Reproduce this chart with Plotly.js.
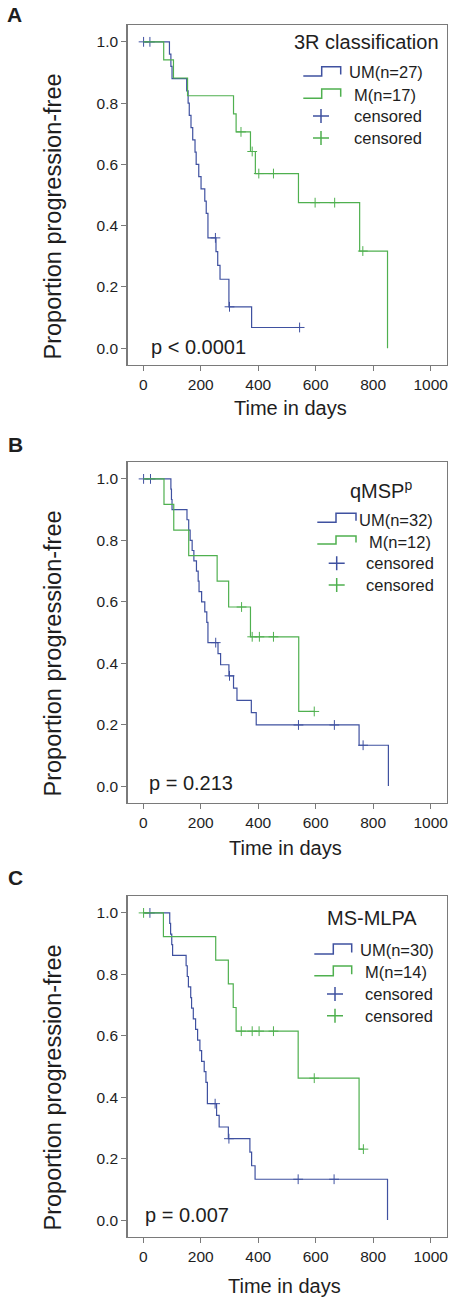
<!DOCTYPE html>
<html>
<head>
<meta charset="utf-8">
<script src="https://cdn.plot.ly/plotly-3.0.1.min.js"></script>
<style>html,body{margin:0;padding:0;background:#fff;}#chart{width:453px;height:1302px;}</style>
</head>
<body>
<div id="chart"></div>
<script>
// ---------- DATA ----------
// Panel A: 3R classification
const umA_t = [0, 91, 96, 100, 151, 156, 160, 166, 172, 180, 184, 193, 201, 214, 219, 225, 253, 259, 267, 298, 377, 544];
const umA_s = [1, 0.96, 0.92, 0.88, 0.84, 0.80, 0.76, 0.72, 0.68, 0.64, 0.60, 0.56, 0.52, 0.48, 0.44, 0.36, 0.315, 0.27, 0.225, 0.135, 0.0675, 0.0675];
const umA_cens = [1, 23, 251, 300, 544];
const mA_t = [0, 71, 105, 154, 314, 323, 373, 390, 540, 753, 850];
const mA_s = [1, 0.941, 0.882, 0.824, 0.765, 0.706, 0.642, 0.570, 0.475, 0.317, 0];
const mA_cens = [340, 379, 402, 453, 598, 666, 764];

// Panel B: qMSP^p
const umB_t = [0, 96, 98, 100, 152, 158, 163, 170, 176, 185, 191, 194, 203, 214, 221, 225, 260, 269, 298, 314, 326, 376, 393, 751, 853];
const umB_s = [1, 0.967, 0.933, 0.9, 0.867, 0.833, 0.8, 0.767, 0.733, 0.7, 0.667, 0.633, 0.6, 0.567, 0.533, 0.467, 0.431, 0.395, 0.359, 0.319, 0.279, 0.239, 0.199, 0.133, 0];
const umB_cens = [1, 25, 252, 300, 540, 665, 765];
const mB_t = [0, 72, 106, 158, 257, 297, 373, 541, 595];
const mB_s = [1, 0.917, 0.833, 0.75, 0.667, 0.583, 0.486, 0.243, 0.243];
const mB_cens = [342, 379, 404, 453, 595];

// Panel C: MS-MLPA
const umC_t = [0, 92, 95, 99, 102, 149, 153, 157, 165, 168, 174, 182, 189, 197, 203, 212, 218, 223, 255, 264, 296, 371, 377, 389, 850];
const umC_s = [1, 0.966, 0.931, 0.897, 0.862, 0.828, 0.793, 0.759, 0.724, 0.690, 0.655, 0.621, 0.586, 0.552, 0.517, 0.483, 0.448, 0.379, 0.341, 0.303, 0.265, 0.221, 0.177, 0.133, 0];
const umC_cens = [23, 250, 298, 539, 664];
const mC_t = [0, 70, 252, 296, 313, 323, 539, 751, 766];
const mC_s = [1, 0.923, 0.846, 0.769, 0.692, 0.615, 0.462, 0.231, 0.231];
const mC_cens = [1, 341, 379, 403, 453, 595, 766];

const xTicks = [0, 200, 400, 600, 800, 1000];
const yTicks = [0, 0.2, 0.4, 0.6, 0.8, 1.0];
const panelLetters = ['A', 'B', 'C'];
const legendTitles = ['3R classification', 'qMSP<sup>p</sup>', 'MS-MLPA'];
const umLabels = ['UM(n=27)', 'UM(n=32)', 'UM(n=30)'];
const mLabels = ['M(n=17)', 'M(n=12)', 'M(n=14)'];
const pValues = ['p < 0.0001', 'p = 0.213', 'p = 0.007'];
const xTitle = 'Time in days';
const yTitle = 'Proportion progression-free';

// ---------- STYLE ----------
const W = 453, H = 1302;
const FONT = 'Liberation Sans, Arial, Helvetica, sans-serif';
const BLUE = '#3f51a0', GREEN = '#4fb04f';
const AXC = '#7a7a7a', TXT = '#1e1e1e';
const X = p => p / W;
const Y = p => 1 - p / H;

function stepAt(ts, ss, t) {
  let v = ss[0];
  for (let i = 0; i < ts.length; i++) if (ts[i] <= t) v = ss[i];
  return v;
}

const panels = [
  {um: [umA_t, umA_s, umA_cens], m: [mA_t, mA_s, mA_cens], top: 25, bot: 365},
  {um: [umB_t, umB_s, umB_cens], m: [mB_t, mB_s, mB_cens], top: 462, bot: 803},
  {um: [umC_t, umC_s, umC_cens], m: [mC_t, mC_s, mC_cens], top: 896, bot: 1237}
];

const traces = [];
const layout = {
  width: W, height: H, margin: {l: 0, r: 0, t: 0, b: 0},
  paper_bgcolor: '#fff', plot_bgcolor: '#fff', showlegend: false,
  font: {family: FONT, color: TXT},
  annotations: [], shapes: []
};

panels.forEach((p, i) => {
  const sfx = i === 0 ? '' : String(i + 1);
  const xa = 'x' + sfx, ya = 'y' + sfx;
  [[p.um, BLUE], [p.m, GREEN]].forEach(([d, col]) => {
    const [t, s, c] = d;
    traces.push({x: t, y: s, xaxis: xa, yaxis: ya, type: 'scatter', mode: 'lines',
      line: {shape: 'hv', color: col, width: 1.2}, hoverinfo: 'skip'});
    traces.push({x: c, y: c.map(v => stepAt(t, s, v)), xaxis: xa, yaxis: ya, type: 'scatter', mode: 'markers',
      marker: {symbol: 'cross-thin', size: 7, line: {color: col, width: 1}}, hoverinfo: 'skip'});
  });
  const axBase = {showline: true, linecolor: AXC, linewidth: 1.3, mirror: true, ticks: 'outside', ticklen: 5,
    tickcolor: AXC, tickwidth: 1, showgrid: false, zeroline: false, fixedrange: true,
    tickfont: {size: 15.5, color: TXT, family: FONT}};
  layout['xaxis' + sfx] = Object.assign({}, axBase, {domain: [127.5 / W, 447 / W], range: [-55, 1057],
    tickvals: xTicks, anchor: ya});
  layout['yaxis' + sfx] = Object.assign({}, axBase, {domain: [Y(p.bot), Y(p.top)], range: [-0.055, 1.055],
    tickvals: yTicks, tickformat: '.1f', anchor: xa});
});

// ---------- TEXT & LEGENDS (pixel positions) ----------
function ann(text, x, y, size, xanchor, extra) {
  layout.annotations.push(Object.assign({text: text, x: X(x), y: Y(y), xref: 'paper', yref: 'paper',
    xanchor: xanchor || 'center', yanchor: 'middle', showarrow: false,
    font: {size: size, color: TXT, family: FONT}}, extra || {}));
}
const letterPos = [[14, 14.5], [15.5, 444.5], [15, 877]];
const pPos = [[149, 346.7], [147, 783.3], [142.5, 1215]];
const xtPos = [[290.5, 408], [285.5, 848], [284, 1286]];
const ytPos = [[52, 216.5], [52, 653.5], [52, 1087.5]];
const legTitle = [[441, 42, 'right'], [348, 489, 'left'], [325, 918.3, 'left']];
const leg = [
  {g: [303.3, 321.7, 340.7], um: [76, 66.7], m: [98.3, 89], tx: [347, 351.7, 352.3], ty: [72, 95, 116, 138], px: 321},
  {g: [317.3, 336, 356], um: [522.3, 513.3], m: [544, 536], tx: [356.7, 366.7, 364.3], ty: [520, 541.7, 563.3, 585], px: 336.7},
  {g: [314.3, 333.3, 351.7], um: [954, 944], m: [975.7, 966], tx: [358.3, 363.3, 363.3], ty: [950, 972.3, 994, 1015.7], px: 335}
];

function glyphPath(x0, xm, x1, yl, yt) {
  return `M ${X(x0)},${Y(yl)} L ${X(xm)},${Y(yl)} L ${X(xm)},${Y(yt)} L ${X(x1)},${Y(yt)} L ${X(x1)},${Y(yl - 1.5)}`;
}
function plusPath(x, y) {
  return `M ${X(x - 8)},${Y(y)} L ${X(x + 8)},${Y(y)} M ${X(x)},${Y(y - 7)} L ${X(x)},${Y(y + 7)}`;
}

for (let i = 0; i < 3; i++) {
  ann('<b>' + panelLetters[i] + '</b>', letterPos[i][0], letterPos[i][1], 21);
  ann(pValues[i], pPos[i][0], pPos[i][1], 20, 'left');
  ann(xTitle, xtPos[i][0], xtPos[i][1], 20);
  ann(yTitle, ytPos[i][0], ytPos[i][1], 23.5, 'center', {textangle: -90});
  ann(legendTitles[i], legTitle[i][0], legTitle[i][1], 20, legTitle[i][2]);
  const L = leg[i];
  layout.shapes.push({type: 'path', xref: 'paper', yref: 'paper', path: glyphPath(L.g[0], L.g[1], L.g[2], L.um[0], L.um[1]), line: {color: BLUE, width: 1.5}});
  layout.shapes.push({type: 'path', xref: 'paper', yref: 'paper', path: glyphPath(L.g[0], L.g[1], L.g[2], L.m[0], L.m[1]), line: {color: GREEN, width: 1.5}});
  layout.shapes.push({type: 'path', xref: 'paper', yref: 'paper', path: plusPath(L.px, L.ty[2]), line: {color: BLUE, width: 1.5}});
  layout.shapes.push({type: 'path', xref: 'paper', yref: 'paper', path: plusPath(L.px, L.ty[3]), line: {color: GREEN, width: 1.5}});
  ann(umLabels[i], L.tx[0], L.ty[0], 16.5, 'left');
  ann(mLabels[i], L.tx[1], L.ty[1], 16.5, 'left');
  ann('censored', L.tx[2], L.ty[2], 16.5, 'left');
  ann('censored', L.tx[2], L.ty[3], 16.5, 'left');
}

Plotly.newPlot('chart', traces, layout, {displayModeBar: false, staticPlot: true});
</script>
</body>
</html>
